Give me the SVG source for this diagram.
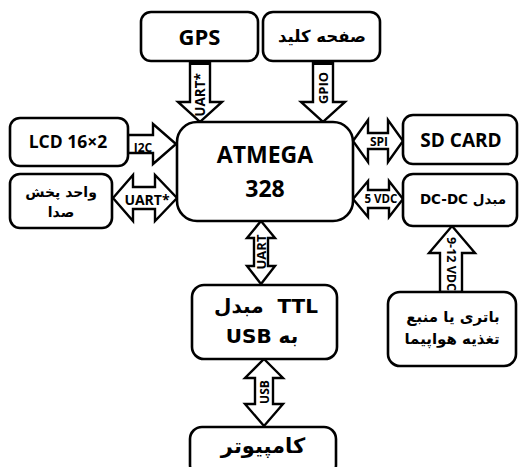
<svg xmlns="http://www.w3.org/2000/svg" width="519" height="467" viewBox="0 0 519 467">
<style>
.box{fill:#fff;stroke:#000;stroke-width:2.6}
.arr{fill:#fff;stroke:#000;stroke-width:2.4;stroke-linejoin:miter}
.t{font-family:"Open Sans","DejaVu Sans",sans-serif;font-weight:bold;fill:#000;text-anchor:middle}
.fa{font-family:"DejaVu Sans","Noto Sans",sans-serif;font-weight:bold;fill:#000;text-anchor:middle}
.lb{font-family:"Open Sans","Liberation Sans",sans-serif;font-weight:bold;fill:#000;text-anchor:middle;font-size:12px}
</style>
<rect width="519" height="467" fill="#fff"/>
<g id="connectors">
  <g id="c-gps">
    <polygon class="arr" points="190,60 210,60 210,102 222,102 200,122 178,102 190,102"/>
    <rect x="190" y="60" width="20" height="5" fill="#000"/>
    <text class="lb" transform="translate(205,95) rotate(-90)" style="font-size:13.5px">UART*</text>
  </g>
  <g id="c-gpio">
    <polygon class="arr" points="313,60 333,60 333,102 345,102 323,122 301,102 313,102"/>
    <rect x="313" y="60" width="20" height="5" fill="#000"/>
    <text class="lb" transform="translate(328,88) rotate(-90)" style="font-size:13px">GPIO</text>
  </g>
  <g id="c-i2c">
    <polygon class="arr" points="128,135 153,135 153,124 176,144 153,164 153,153 128,153"/>
    <text class="lb" x="143" y="152">I2C</text>
  </g>
  <g id="c-audio">
    <polygon class="arr" points="113,198 133,175 133,187 155,187 155,175 177,198 155,221 155,209 133,209 133,221"/>
    <text class="lb" x="147" y="205" style="font-size:14px">UART*</text>
  </g>
  <g id="c-spi">
    <polygon class="arr" points="353,141 368,120 368,133 388,133 388,120 403,141 388,162 388,149 368,149 368,162"/>
    <text class="lb" x="379" y="146">SPI</text>
  </g>
  <g id="c-5v">
    <polygon class="arr" points="353,199 368,181 368,190 389,190 389,181 403,199 389,217 389,208 368,208 368,217"/>
    <text class="lb" x="381" y="203" style="font-size:11.5px">5 VDC</text>
  </g>
  <g id="c-uart">
    <polygon class="arr" points="261,221 275,238 268,238 268,266 275,266 261,284 247,266 254,266 254,238 247,238"/>
    <text class="lb" transform="translate(265.5,252) rotate(-90)" style="font-size:13px">UART</text>
  </g>
  <g id="c-usb">
    <polygon class="arr" points="264,359 283,378 273,378 273,404 283,404 264,426 245,404 255,404 255,378 245,378"/>
    <text class="lb" transform="translate(268.5,392) rotate(-90)">USB</text>
  </g>
  <g id="c-power">
    <polygon class="arr" points="452,226 475,253 462,253 462,292 440,292 440,253 429,253"/>
    <text class="lb" transform="translate(447,264) rotate(90)" style="font-size:12.5px">9-12 VDC</text>
  </g>
</g>
<g id="gps">
  <rect class="box" x="141" y="12" width="117" height="49" rx="10"/>
  <text class="t" x="199.5" y="45" font-size="22">GPS</text>
</g>
<g id="keyboard">
  <rect class="box" x="263" y="12" width="117" height="49" rx="10"/>
  <text class="fa" x="322" y="42" font-size="16.5">صفحه کلید</text>
</g>
<g id="lcd">
  <rect class="box" x="10" y="118" width="118" height="48" rx="10"/>
  <text class="t" x="68" y="148" font-size="17.5">LCD 16×2</text>
</g>
<g id="audio">
  <rect class="box" x="10" y="174" width="102" height="54" rx="10"/>
  <text class="fa" x="61" y="197" font-size="14">واحد پخش</text>
  <text class="fa" x="61" y="217" font-size="14">صدا</text>
</g>
<g id="atmega">
  <rect class="box" x="177" y="122" width="176" height="99" rx="20"/>
  <text class="t" x="265" y="163" font-size="23">ATMEGA</text>
  <text class="t" x="265" y="197" font-size="23">328</text>
</g>
<g id="sdcard">
  <rect class="box" x="403" y="115" width="114" height="49" rx="10"/>
  <text class="t" x="461" y="147" font-size="19">SD CARD</text>
</g>
<g id="dcdc">
  <rect class="box" x="403" y="174" width="114" height="52" rx="10"/>
  <text class="fa" x="463" y="204" font-size="13.5">DC-DC مبدل</text>
</g>
<g id="ttl">
  <rect class="box" x="192" y="285" width="145" height="74" rx="12"/>
  <text class="fa" x="266" y="313" font-size="20" xml:space="preserve">مبدل  TTL</text>
  <text class="fa" x="262" y="343" font-size="20">USB به</text>
</g>
<g id="battery">
  <rect class="box" x="388" y="292" width="128" height="74" rx="12"/>
  <text class="fa" x="453" y="322" font-size="15">باتری یا منبع</text>
  <text class="fa" x="452" y="344" font-size="15">تغذیه هواپیما</text>
</g>
<g id="computer">
  <rect class="box" x="190" y="427" width="146" height="50" rx="12"/>
  <text class="fa" x="263" y="453" font-size="21">کامپیوتر</text>
</g>
</svg>
